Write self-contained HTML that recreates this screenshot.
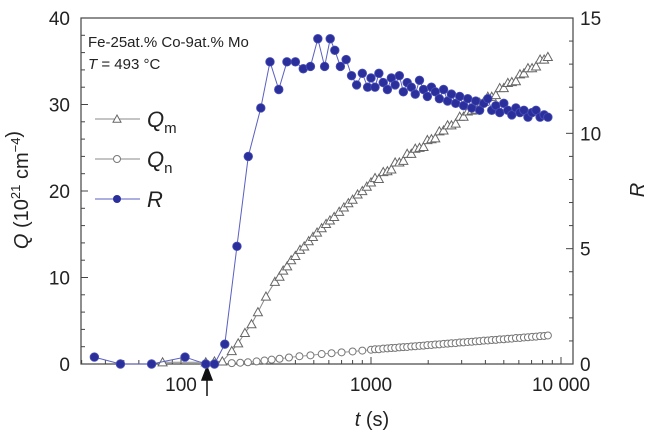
<!DOCTYPE html>
<html><head><meta charset="utf-8"><style>
html,body{margin:0;padding:0;background:#fff;}
svg{display:block;font-family:"Liberation Sans",sans-serif;}
</style></head><body>
<svg id="chart" width="651" height="438">
<g id="axes"></g>
<g id="series"></g>
<g id="legend"></g>
</svg>
<script>
const qmTimes=[80,135,150,165,185,200,217,235,254,280,312,330,345,362,380,400,423,445,470,495,520,550,580,608,640,680,720,760,800,850,900,950,1000,1050,1100,1160,1220,1280,1340,1410,1480,1550,1630,1710,1800,1890,1980,2080,2180,2290,2410,2530,2650,2790,2930,3070,3230,3390,3560,3730,3920,4120,4320,4540,4760,5000,5250,5510,5790,6080,6380,6700,7040,7390,7760,8150,8530];
const qmValues=[0.2,0.2,0.3,0.3,1.5,2.4,3.6,4.6,6.0,7.8,9.5,10.1,10.8,11.3,12.0,12.5,13.2,13.6,14.2,14.7,15.2,15.7,16.2,16.6,17.0,17.6,18.1,18.6,19.0,19.6,20.0,20.5,21.0,21.5,21.4,22.2,22.3,22.5,23.3,23.3,23.5,24.3,24.3,24.9,25.0,25.1,25.9,26.0,26.1,26.9,27.0,27.6,27.6,27.8,28.6,28.6,29.2,29.3,29.4,30.2,30.3,30.9,30.9,31.1,31.9,31.9,32.5,32.6,32.7,33.5,33.6,34.2,34.2,34.4,35.2,35.2,35.5];
const qnTimes=[185,205,225,250,275,300,330,370,420,480,550,620,700,800,900,1000,1050,1100,1160,1220,1280,1340,1410,1480,1550,1630,1710,1800,1890,1980,2080,2180,2290,2410,2530,2650,2790,2930,3070,3230,3390,3560,3730,3920,4120,4320,4540,4760,5000,5250,5510,5790,6080,6380,6700,7040,7390,7760,8150,8530];
const qnValues=[0.1,0.15,0.2,0.3,0.4,0.5,0.6,0.75,0.9,1.0,1.15,1.25,1.35,1.45,1.55,1.65,1.7,1.7,1.78,1.8,1.85,1.86,1.92,1.95,1.97,2.03,2.05,2.1,2.12,2.18,2.2,2.25,2.27,2.33,2.35,2.4,2.42,2.48,2.5,2.55,2.57,2.62,2.64,2.7,2.72,2.77,2.79,2.85,2.86,2.92,2.94,3.0,3.01,3.07,3.09,3.14,3.16,3.22,3.24,3.3];
const rTimes=[35,48,70,105,135,150,170,197,226,263,294,327,361,400,440,480,525,570,610,645,690,740,790,840,900,960,1000,1050,1100,1160,1220,1280,1340,1410,1480,1550,1630,1710,1800,1890,1980,2080,2180,2290,2410,2530,2650,2790,2930,3070,3230,3390,3560,3730,3920,4120,4320,4540,4760,5000,5250,5510,5790,6080,6380,6700,7040,7390,7760,8150,8530];
const rValues=[0.3,0.0,0.0,0.3,0.0,0.0,0.86,5.1,9.0,11.1,13.1,11.9,13.1,13.1,12.8,12.9,14.1,12.9,14.1,13.6,12.9,13.2,12.5,12.1,12.6,12.0,12.4,12.0,12.6,12.2,11.9,12.4,12.1,12.5,11.8,12.2,12.0,11.7,12.3,11.9,11.6,12.0,11.8,11.5,11.9,11.4,11.7,11.3,11.6,11.2,11.5,11.1,11.4,11.0,11.3,11.5,11.0,11.2,10.9,11.3,11.0,10.8,11.1,10.9,11.0,10.7,10.9,11.0,10.7,10.8,10.7];
const qTicks=[0,10,20,30,40];
const rTicks=[0,5,10,15];
const xTickValues=[100,1000,10000];
const xTickLabels=["100","1000","10 000"];

const NS="http://www.w3.org/2000/svg";
const L=81,R=573,T=18,B=364;
const xS=t=>181+(Math.log10(t)-2)*190;
const qS=v=>B-(B-T)*v/40;
const rS=v=>B-(B-T)*v/15;
function mk(tag,attrs,parent,text){const e=document.createElementNS(NS,tag);for(const k in attrs)e.setAttribute(k,attrs[k]);if(text!==undefined)e.textContent=text;parent.appendChild(e);return e;}
const axes=document.getElementById('axes'),ser=document.getElementById('series'),leg=document.getElementById('legend');

let frame=mk('rect',{x:L,y:T,width:R-L,height:B-T,fill:'none',stroke:'#444','stroke-width':1.2},axes);


for(let v=0;v<=40;v+=2){const y=qS(v);const major=v%10===0;const tk=mk('line',{x1:L,x2:L+(major?7:4),y1:y,y2:y,stroke:'#444','stroke-width':1},axes);

}
qTicks.forEach(v=>{const t=mk('text',{x:70,y:qS(v)+7,'text-anchor':'end','font-size':19,fill:'#222'},axes,String(v));

});
for(let v=0;v<=15;v++){const y=rS(v);const major=v%5===0;const tk=mk('line',{x1:R,x2:R-(major?7:4),y1:y,y2:y,stroke:'#444','stroke-width':1},axes);

}
rTicks.forEach(v=>{const t=mk('text',{x:580,y:rS(v)+7,'text-anchor':'start','font-size':19,fill:'#222'},axes,String(v));

});
for(let d=10;d<=10000;d*=10){for(let m=1;m<10;m++){const t=d*m;const x=xS(t);if(x<L||x>R)continue;const major=m===1;const tk=mk('line',{x1:x,x2:x,y1:B,y2:B-(major?7:4),stroke:'#444','stroke-width':1},axes);

}}
xTickValues.forEach((v,i)=>{const t=mk('text',{x:xS(v),y:391,'text-anchor':'middle','font-size':19,fill:'#222'},axes,xTickLabels[i]);

});
let xt=mk('text',{x:372,y:426,'text-anchor':'middle','font-size':20,fill:'#222'},axes);


xt.innerHTML='<tspan font-style="italic">t</tspan> (s)';
let yt=mk('text',{x:0,y:0,transform:'translate(28,190) rotate(-90)','text-anchor':'middle','font-size':20,fill:'#222'},axes);


yt.innerHTML='<tspan font-style="italic">Q</tspan> (10<tspan font-size="13" dy="-8">21</tspan><tspan dy="8"> cm</tspan><tspan font-size="13" dy="-8">−4</tspan>)';
let rt=mk('text',{x:0,y:0,transform:'translate(644,190) rotate(-90)','text-anchor':'middle','font-size':20,'font-style':'italic',fill:'#222'},axes,'R');


let arrow=mk('path',{d:'M207,396 L207,378 M202,380 L207,367 L212,380 Z',stroke:'#111','stroke-width':1.5,fill:'#111'},axes);


let a1=mk('text',{x:88,y:47,'font-size':15,fill:'#222'},axes,'Fe-25at.% Co-9at.% Mo');


let a2=mk('text',{x:88,y:69,'font-size':15,fill:'#222'},axes);


a2.innerHTML='<tspan font-style="italic">T</tspan> = 493 °C';

function line(ts,vs,sc,color,name){const pts=ts.map((t,i)=>xS(t)+','+sc(vs[i])).join(' ');const p=mk('polyline',{points:pts,fill:'none',stroke:color,'stroke-width':1},ser);

}
function tri(x,y,s,g,c){return mk('path',{d:`M${x},${y-s} L${x+s},${y+s*0.8} L${x-s},${y+s*0.8} Z`,fill:'#fff',stroke:c,'stroke-width':1},g);}
line(qnTimes,qnValues,qS,'#999','qn');
qnTimes.forEach((t,i)=>{const c=mk('circle',{cx:xS(t),cy:qS(qnValues[i]),r:3.5,fill:'#fff',stroke:'#777','stroke-width':1},ser);

});
line(qmTimes,qmValues,qS,'#888','qm');
qmTimes.forEach((t,i)=>{const p=tri(xS(t),qS(qmValues[i]),4.5,ser,'#666');

});
line(rTimes,rValues,rS,'#5a5fc0','r');
rTimes.forEach((t,i)=>{const c=mk('circle',{cx:xS(t),cy:rS(rValues[i]),r:4.3,fill:'#2a2f9c',stroke:'#4a50b5','stroke-width':0.8},ser);

});

const legY=[119,159,199];
const legNames=['qm','qn','r'];
legY.forEach((y,i)=>{const ln=mk('line',{x1:95,x2:140,y1:y,y2:y,stroke:i===2?'#5a5fc0':'#888','stroke-width':1},leg);


let s;
if(i===0)s=tri(117,y,4,leg,'#666');else if(i===1)s=mk('circle',{cx:117,cy:y,r:3.5,fill:'#fff',stroke:'#777'},leg);else s=mk('circle',{cx:117,cy:y,r:4,fill:'#2a2f9c'},leg);


const tx=mk('text',{x:147,y:y+8,'font-size':22,fill:'#222'},leg);


tx.innerHTML=i===0?'<tspan font-style="italic">Q</tspan><tspan font-size="15" dy="6">m</tspan>':i===1?'<tspan font-style="italic">Q</tspan><tspan font-size="15" dy="6">n</tspan>':'<tspan font-style="italic">R</tspan>';});
</script>
</body></html>
